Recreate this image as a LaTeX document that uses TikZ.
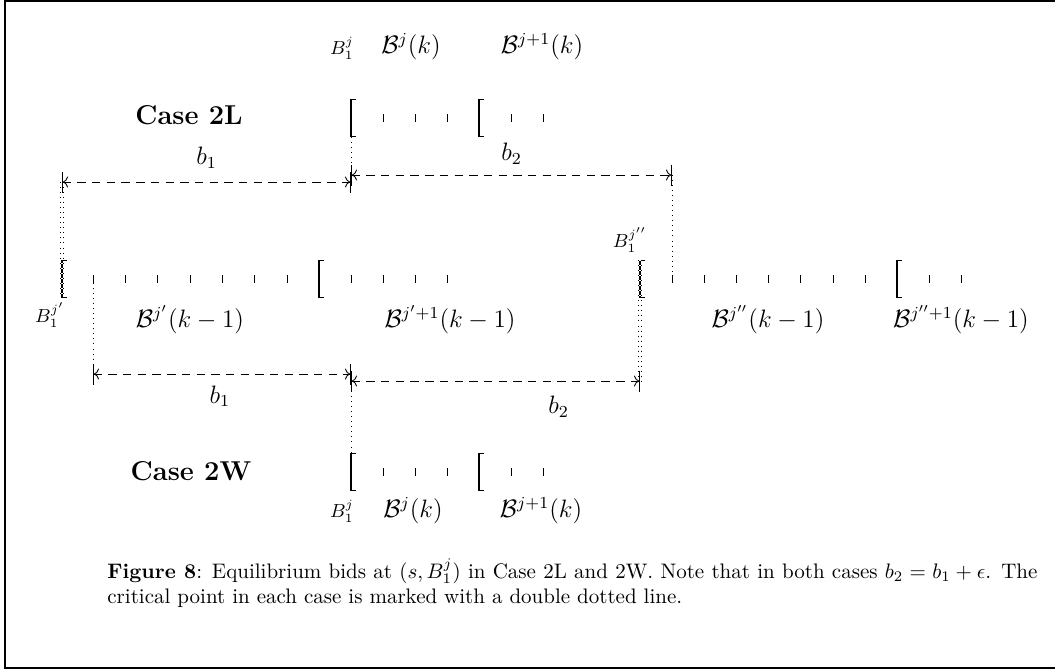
\documentclass[tikz,border=0pt]{standalone}
\usepackage{amsmath,amssymb}
\usepackage{tikz}
\usetikzlibrary{arrows.meta}
\newcommand{\openbr}[2]{\draw[line width=0.7pt] (#1+5,#2-18.5) -- (#1,#2-18.5) -- (#1,#2+18.5) -- (#1+5,#2+18.5);}
\newcommand{\bidtick}[2]{\draw[line width=0.4pt] (#1,#2-4) -- (#1,#2+4);}

\begin{document}
\begin{tikzpicture}[x=0.4763pt, y=-0.4763pt, font=\large,
  dim/.style={dashed, dash pattern=on 4pt off 3pt, arrows={Bar[width=10pt] To[]-To[] Bar[width=10pt]}},
  crit/.style={dotted, double, double distance=0.7pt},
  casename/.style={font=\fontsize{13}{15}\selectfont\bfseries},
  lab/.style={inner sep=1pt}]
\useasboundingbox (0,0) rectangle (1055,671);
\draw[line width=1.3pt] (1055,1) -- (5,1) -- (5,668) -- (1055,668);

% Case 2L
\node[casename] (c2l) at (189,115) {Case 2L};
\openbr{351}{118}
\foreach \x in {383,415,447} {\bidtick{\x}{118}}
\openbr{479}{118}
\foreach \x in {511,543} {\bidtick{\x}{118}}
\node[lab, font=\small] (tb) at (342,48) {$B_1^j$};
\node[lab] (tk) at (411,47) {$\mathcal{B}^j(k)$};
\node[lab] (tk1) at (542,47) {$\mathcal{B}^{j+1}(k)$};

% middle row
\openbr{62}{279}
\foreach \x in {93,125,157,190,222,254,287} {\bidtick{\x}{279}}
\openbr{319}{279}
\foreach \x in {351,383,415,447} {\bidtick{\x}{279}}
\openbr{640}{279}
\foreach \x in {672,704,736,768,800,833,865} {\bidtick{\x}{279}}
\openbr{897}{279}
\foreach \x in {929,961} {\bidtick{\x}{279}}
\node[lab, font=\small] (mb1) at (50,315) {$B_1^{j'}$};
\node[lab] (mk1) at (190,320) {$\mathcal{B}^{j'}(k-1)$};
\node[lab] (mk2) at (450,320) {$\mathcal{B}^{j'+1}(k-1)$};
\node[lab, font=\small] (mb2) at (630,240) {$B_1^{j''}$};
\node[lab] (mk3) at (768,320) {$\mathcal{B}^{j''}(k-1)$};
\node[lab] (mk4) at (961,320) {$\mathcal{B}^{j''+1}(k-1)$};

% Case 2W
\node[casename] (c2w) at (191,471) {Case 2W};
\openbr{351}{472}
\foreach \x in {383,415,447} {\bidtick{\x}{472}}
\openbr{479}{472}
\foreach \x in {511,543} {\bidtick{\x}{472}}
\node[lab, font=\small] (bb) at (342,511) {$B_1^j$};
\node[lab] (bk) at (413,511) {$\mathcal{B}^j(k)$};
\node[lab] (bk1) at (541,511) {$\mathcal{B}^{j+1}(k)$};

% points for the distances
\coordinate (tl) at (62,182);
\coordinate (tm) at (351,182);
\coordinate (tm2) at (351,175);
\coordinate (tr) at (672,175);
\coordinate (tbot) at (351,137);
\coordinate (ttick) at (672,275);
\coordinate (mbot) at (62,297);
\coordinate (mtop) at (640,260);
\coordinate (mtick) at (93,283);
\coordinate (bl) at (93,374);
\coordinate (bm) at (351,374);
\coordinate (bm2) at (351,381);
\coordinate (br) at (640,381);
\coordinate (btop) at (351,453);

\draw[dotted] (tbot) -- (tm2);
\draw[dotted] (tr) -- (ttick);
\draw[crit] (tl) -- (mbot);
\draw[dim] (tl) -- node[above=3pt] (b1t) {$b_1$} (tm);
\draw[dim] (tm2) -- node[above=1.5pt] (b2t) {$b_2$} (tr);

\draw[dotted] (mtick) -- (bl);
\draw[dotted] (bm2) -- (btop);
\draw[crit] (mtop) -- (br);
\draw[dim] (bl) -- node[below=2pt, xshift=-1pt] (b1b) {$b_1$} (bm);
\draw[dim] (bm2) -- node[below=3.5pt, xshift=30pt] (b2b) {$b_2$} (br);

% caption
\node[anchor=north west, text width=443pt, align=justify, inner sep=0pt, font=\normalsize] (cap) at (107,558)
  {\textbf{Figure 8}: Equilibrium bids at $(s,B_1^j)$ in Case 2L and 2W. Note that in both cases $b_2=b_1+\epsilon$. The critical point in each case is marked with a double dotted line.};
\end{tikzpicture}
\end{document}
